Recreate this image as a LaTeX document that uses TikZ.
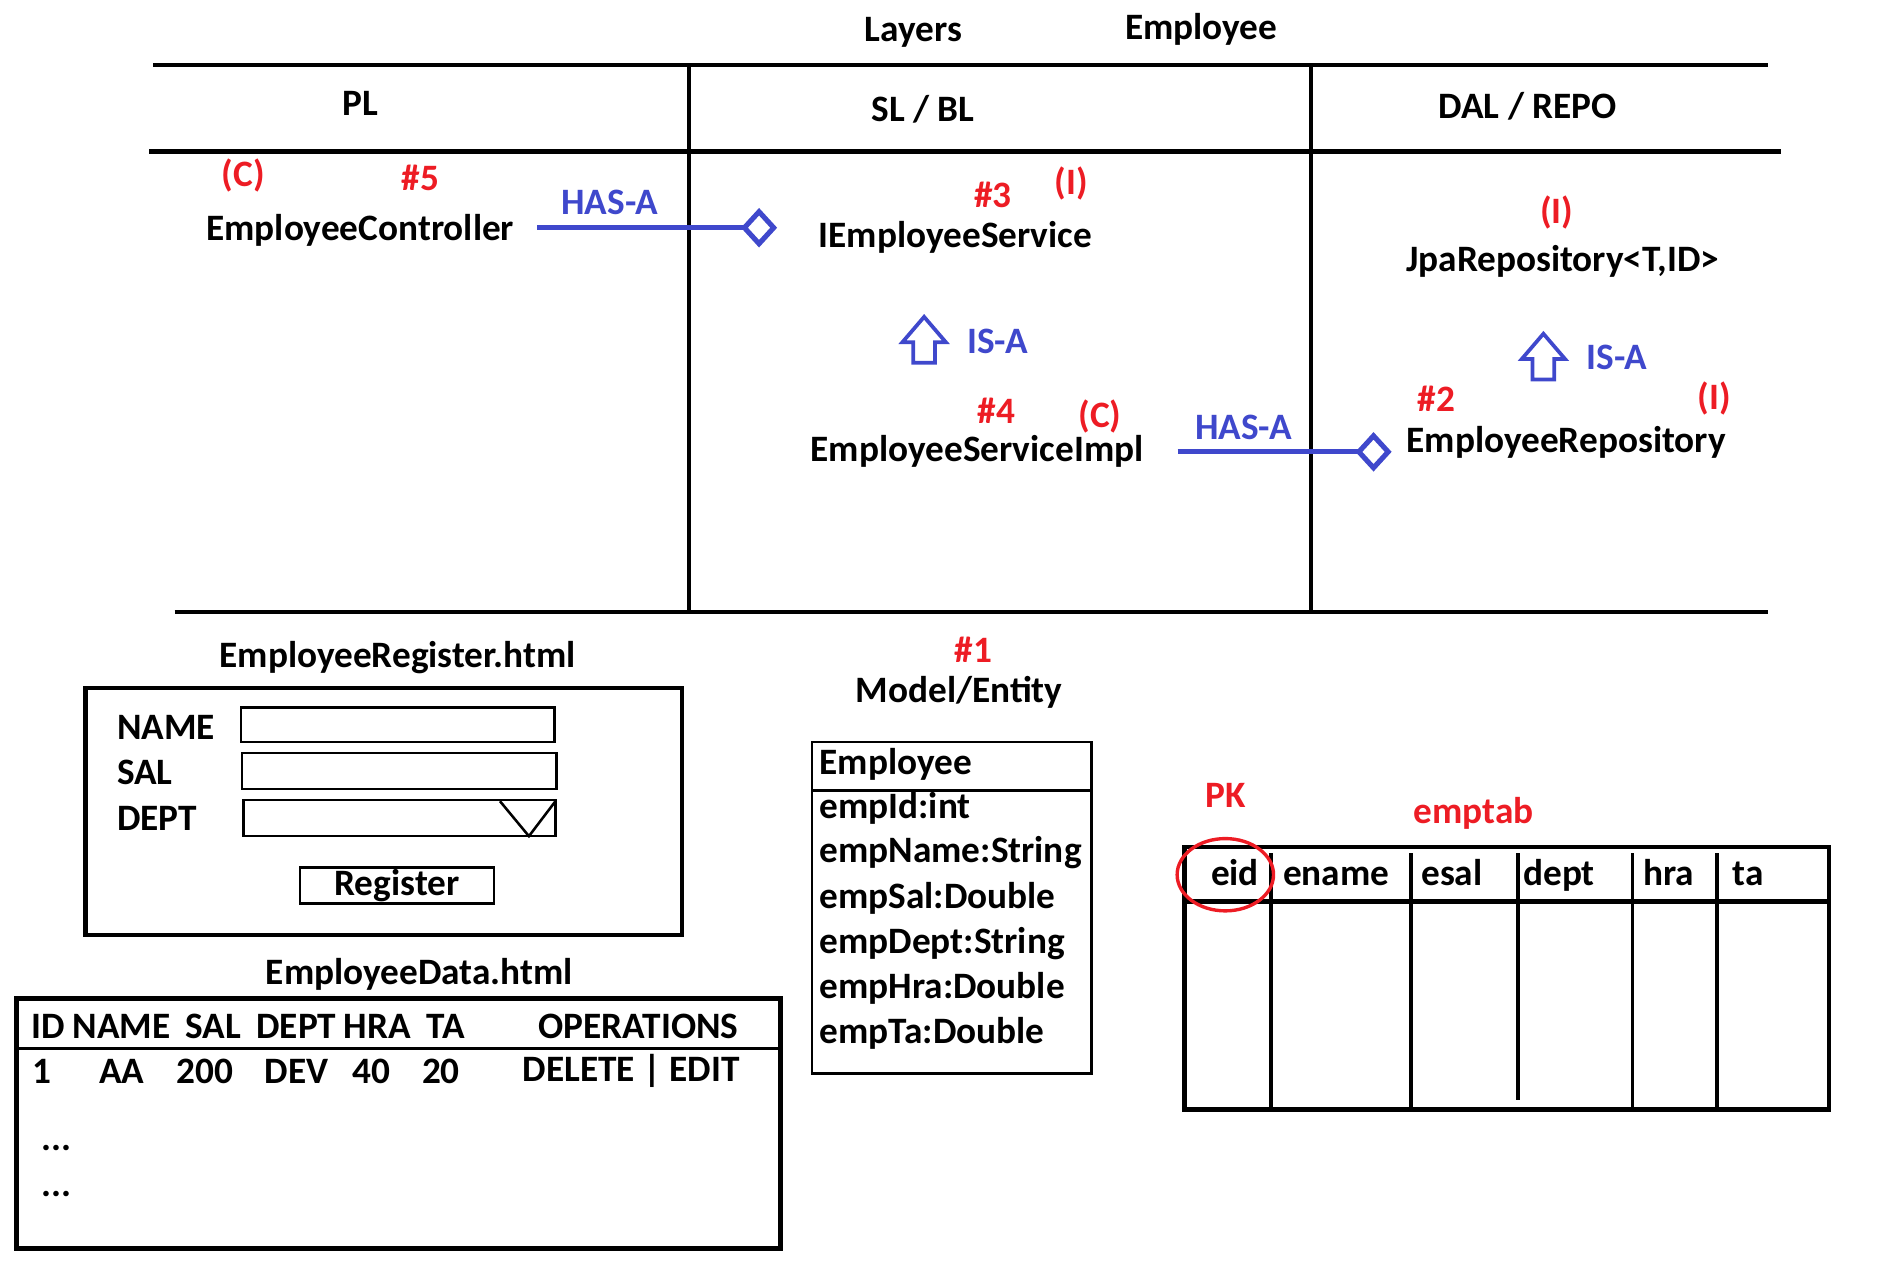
\documentclass[tikz,border=0pt]{standalone}
\usepackage{fontspec}
\setmainfont{Carlito}
\usetikzlibrary{arrows.meta,positioning,calc}
\definecolor{pred}{RGB}{237,28,36}
\definecolor{pblue}{RGB}{63,72,204}
\tikzstyle{txt}=[inner sep=0pt,font=\bfseries\fontsize{22}{26}\selectfont]
\tikzstyle{tag}=[txt,text=pred]
\tikzstyle{rel}=[txt,text=pblue]
\tikzstyle{rule}=[line width=2.8pt]
\tikzstyle{vrule}=[line width=2.2pt]
\tikzstyle{thinrule}=[line width=1.5pt]
\tikzstyle{hasa}=[draw=pblue,line width=3pt,-{Diamond[open,length=0.75cm,width=0.82cm]}]
\tikzstyle{isa}=[draw=pblue,line width=2.2pt,line join=miter]
\newcommand{\isaarrow}[1]{\draw[isa] (#1) ++(0,-20) -- ++(18,21) -- ++(-9,0) -- ++(0,17) -- ++(-18,0) -- ++(0,-17) -- ++(-9,0) -- cycle;}
\begin{document}
\begin{tikzpicture}[x=0.025cm,y=-0.025cm]
			\useasboundingbox (0,0) rectangle (1567,1052);
			% Layers header
			\node[txt] (layers) at (758,27) {Layers};
			\node[txt] (ent) at (997,24) {Employee};
			\draw[rule] (127,54) -- (1467,54);
			\draw[rule] (124,126) -- (1478,126);
			\draw[rule] (145,508) -- (1467,508);
			\draw[vrule] (572,54) -- (572,510);
			\draw[vrule] (1088,54) -- (1088,510);
			\node[txt] (pl) at (299,86) {PL};
			\node[txt] (sl) at (766,91) {SL / BL};
			\node[txt] (dal) at (1268,88) {DAL / REPO};

			% PL part
			\node[txt] (ctrl) at (299,191) {EmployeeController};
			\node[tag] (ctrlc) at (202,146) {(C)};
			\node[tag] (ctrln) at (349,148) {\#5};
			\node[rel] (has1) at (506,168) {HAS-A};
			\coordinate (has1e) at (645,189);

			% SL / BL part
			\node[txt] (isvc) at (793,197) {IEmployeeService};
			\node[tag] (isvcn) at (824,162) {\#3};
			\node[tag] (isvci) at (889,152) {(I)};
			\isaarrow{767,283}
			\node[rel] (isa1) at (828,283) {IS-A};
			\node[txt] (simpl) at (811,375) {EmployeeServiceImpl};
			\node[tag] (simpln) at (827,341) {\#4};
			\node[tag] (simplc) at (913,346) {(C)};
			\node[rel] (has2) at (1032,355) {HAS-A};
			\coordinate (has2e) at (1155,375);

			% DAL / REPO part
			\node[txt] (jpa) at (1297,217) {JpaRepository<T,ID>};
			\node[tag] (jpai) at (1292,176) {(I)};
			\isaarrow{1281,297}
			\node[rel] (isa2) at (1342,297) {IS-A};
			\node[txt] (repo) at (1300,367) {EmployeeRepository};
			\node[tag] (repon) at (1192,331) {\#2};
			\node[tag] (repoi) at (1423,331) {(I)};

			\draw[hasa] ($(ctrl.east)+(19,-2)$) -- (has1e);
			\draw[hasa] ($(simpl.east)+(28,0)$) -- (has2e);

			% Register form
			\node[txt] (regt) at (330,546) {EmployeeRegister.html};
			\draw[rule] (71,571) rectangle (566,776);
			\node[txt,anchor=west] (fname) at (97,604) {NAME};
			\node[txt,anchor=west] (fsal) at (97,641) {SAL};
			\node[txt,anchor=west] (fdept) at (97,679) {DEPT};
			\draw[thinrule] (200,587) rectangle (460,616);
			\draw[thinrule] (201,625) rectangle (462,655);
			\draw[thinrule] (202,664) rectangle (461,694);
			\draw[thinrule] (415,665) -- (439,694) -- (461,665);
			\node[txt,draw,thinrule,minimum width=4.02cm,minimum height=0.75cm] (reg) at (329.5,735) {Register};

			% Data page
			\node[txt] (datat) at (348,809) {EmployeeData.html};
			\draw[rule] (14,829) rectangle (648,1036);
			\draw[thinrule] (14,870) -- (648,870);
			\foreach \w/\x [count=\i] in {ID/40,NAME/101,SAL/177,DEPT/246,HRA/313,TA/370,OPERATIONS/530}
				\node[txt] (dh\i) at (\x,852) {\w};
			\foreach \w/\x [count=\i] in {1/35,AA/101,200/170,DEV/246,40/308,20/366,DELETE | EDIT/524}
				\node[txt] (dr\i) at (\x,889) {\w};
			\node[txt] (dots1) at (47,953) {...};
			\node[txt] (dots2) at (47,991) {...};

			% Model / Entity
			\node[tag] (m1) at (808,539) {\#1};
			\node[txt] (model) at (796,575) {Model/Entity};
			\draw[thinrule] (674,616) rectangle (906,891);
			\draw[thinrule] (674,656) -- (906,656);
			\node[txt,anchor=west] (cls) at (680,634) {Employee};
			\foreach \f/\y [count=\i] in {empId:int/671,empName:String/708,empSal:Double/746,empDept:String/783,empHra:Double/820,empTa:Double/858}
				\node[txt,anchor=west] (f\i) at (680,\y) {\f};

			% emptab
			\node[tag] (pk) at (1017,660) {PK};
			\node[tag] (tabn) at (1223,675) {emptab};
			\draw[rule] (983,703) rectangle (1518,921);
			\draw[rule] (983,748) -- (1518,748);
			\foreach \x/\b in {1055/921,1171/921,1260/913,1355/921,1425/921}
				\draw[vrule] (\x,708) -- (\x,\b);
			\foreach \c/\x [count=\i] in {eid/1025,ename/1109,esal/1205,dept/1294,hra/1385,ta/1451}
				\node[txt,anchor=base] (c\i) at (\x,735) {\c};
			\draw[pred,line width=2pt] (1017,726) ellipse [x radius=40,y radius=30];
		\end{tikzpicture}
\end{document}
